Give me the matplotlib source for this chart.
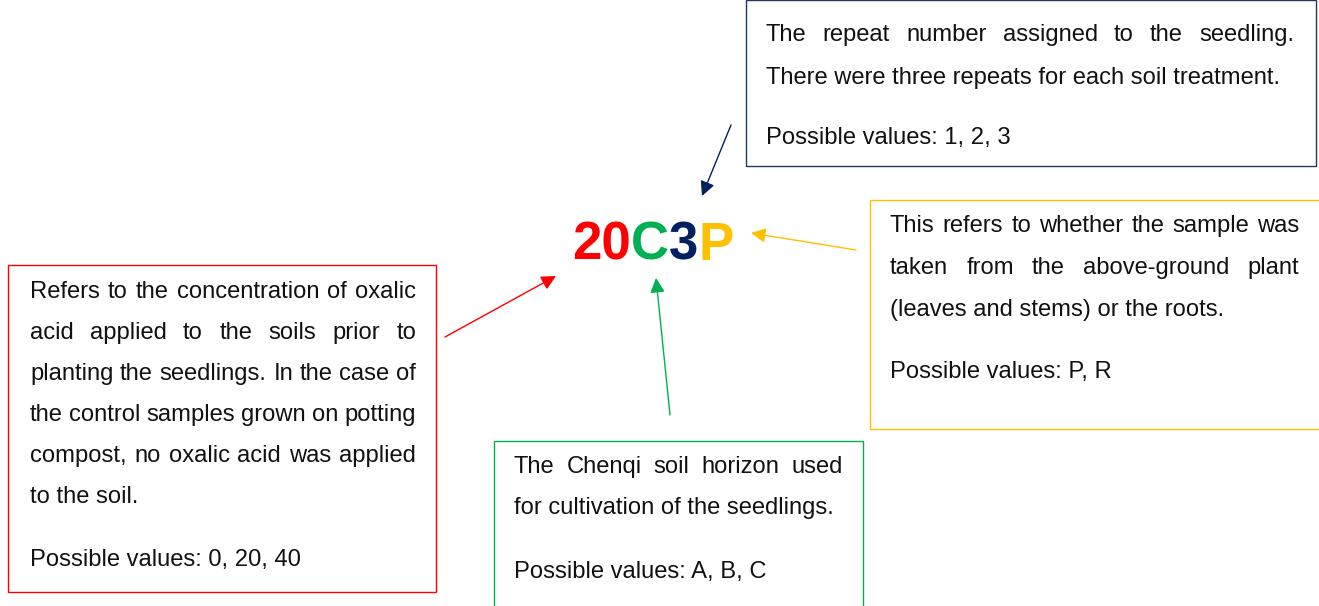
import matplotlib.pyplot as plt
from matplotlib.patches import Rectangle

plt.rcParams['font.family'] = ['Liberation Sans', 'DejaVu Sans']

W, H = 1319, 606

# sample code and the colour of each part
code_parts = ['20', 'C', '3', 'P']
code_colors = ['#FF0000', '#00B050', '#002060', '#FFC000']

# boxes: (left, top, right, bottom) in pixels
box_edges = {
    'repeat': (746, 0, 1316, 166),
    'part': (870, 200, 1320, 429),
    'acid': (8, 265, 436, 592),
    'horizon': (494, 441, 863, 610),
}
box_colors = {'repeat': '#1F3864', 'part': '#FFC000', 'acid': '#FF0000', 'horizon': '#00B050'}

# text lines (True = justified)
box_lines = {
    'repeat': [('The repeat number assigned to the seedling.', True),
               ('There were three repeats for each soil treatment.', False)],
    'part': [('This refers to whether the sample was', True),
             ('taken from the above-ground plant', True),
             ('(leaves and stems) or the roots.', False)],
    'acid': [('Refers to the concentration of oxalic', True),
             ('acid applied to the soils prior to', True),
             ('planting the seedlings. In the case of', True),
             ('the control samples grown on potting', True),
             ('compost, no oxalic acid was applied', True),
             ('to the soil.', False)],
    'horizon': [('The Chenqi soil horizon used', True),
                ('for cultivation of the seedlings.', False)],
}
box_values = {
    'repeat': 'Possible values: 1, 2, 3',
    'part': 'Possible values: P, R',
    'acid': 'Possible values: 0, 20, 40',
    'horizon': 'Possible values: A, B, C',
}
# text area: left, right, first line y, line step, values y
text_layout = {
    'repeat': (766, 1294, 35, 43, 138),
    'part': (890, 1299, 226, 42, 372),
    'acid': (30, 416, 292, 41, 560),
    'horizon': (514, 843, 467, 41, 572),
}
# arrows: (tail, head)
arrows = {
    'repeat': ((731, 125), (702, 196)),
    'part': ((856, 250), (751, 233)),
    'acid': ((445, 337), (556, 276)),
    'horizon': ((670, 415), (656, 278)),
}
arrow_colors = {'repeat': '#002060', 'part': '#FFC000', 'acid': '#FF0000', 'horizon': '#00B050'}

fig = plt.figure(figsize=(W / 100, H / 100), dpi=100)
ax = fig.add_axes([0, 0, 1, 1])
ax.set_xlim(0, W)
ax.set_ylim(H, 0)
ax.axis('off')
renderer = fig.canvas.get_renderer()

FS = 17.1


def text_width(s, **kw):
    t = ax.text(0, 0, s, fontsize=FS, **kw)
    w = t.get_window_extent(renderer).width
    t.remove()
    return w


def draw_line(s, x0, x1, y, justify):
    if not justify:
        ax.text(x0, y, s, fontsize=FS, va='center', ha='left', color='#111111')
        return
    words = s.split(' ')
    widths = [text_width(w) for w in words]
    gap = (x1 - x0 - sum(widths)) / (len(words) - 1)
    x = x0
    for w, wd in zip(words, widths):
        ax.text(x, y, w, fontsize=FS, va='center', ha='left', color='#111111')
        x += wd + gap


for key, (l, t, r, b) in box_edges.items():
    ax.add_patch(Rectangle((l, t), r - l, b - t, fill=False,
                           edgecolor=box_colors[key], lw=1.0))
    x0, x1, y0, dy, yv = text_layout[key]
    for i, (s, just) in enumerate(box_lines[key]):
        draw_line(s, x0, x1, y0 + i * dy, just)
    ax.text(x0, yv, box_values[key], fontsize=FS, va='center', ha='left', color='#111111')

for key, (tail, head) in arrows.items():
    ax.annotate('', xy=head, xytext=tail,
                arrowprops=dict(arrowstyle='-|>', color=arrow_colors[key], lw=1.0,
                                mutation_scale=22, shrinkA=0, shrinkB=0))

# central code, part by part
x = 572
for part, c in zip(code_parts, code_colors):
    t = ax.text(x, 246, part, fontsize=38, fontweight='bold', color=c,
                va='center', ha='left')
    x += t.get_window_extent(renderer).width

fig.savefig('out.png', dpi=100)
